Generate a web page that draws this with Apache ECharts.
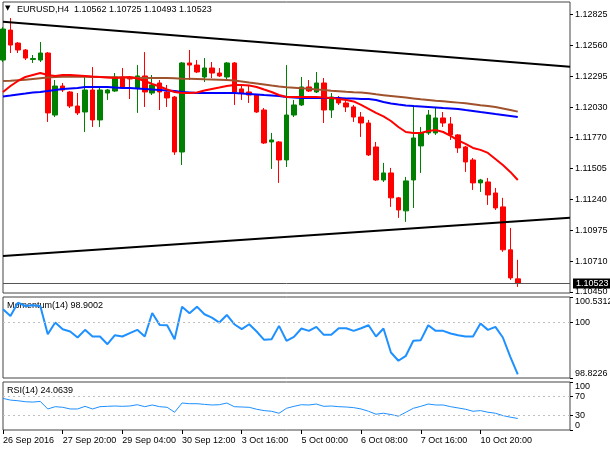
<!DOCTYPE html>
<html>
<head>
<meta charset="utf-8">
<script src="https://cdn.jsdelivr.net/npm/echarts@6/dist/echarts.min.js"></script>
<style>
  html, body { margin: 0; padding: 0; background: #fff; }
  #chart { width: 610px; height: 450px; }
</style>
</head>
<body>
<div id="chart"></div>
<script>
// EURUSD H4, candles as [open, close, low, high]
var candles = [
  [1.12432, 1.12697, 1.12415, 1.12714], [1.12688, 1.12560, 1.12492, 1.12791],
  [1.12577, 1.12518, 1.12492, 1.12586], [1.12518, 1.12449, 1.12432, 1.12526],
  [1.12437, 1.12445, 1.12407, 1.12475], [1.12432, 1.12492, 1.12415, 1.12586],
  [1.12492, 1.11980, 1.11903, 1.12500], [1.11962, 1.12210, 1.11945, 1.12261],
  [1.12210, 1.12176, 1.12159, 1.12236], [1.12159, 1.12039, 1.12022, 1.12167],
  [1.12039, 1.11980, 1.11962, 1.12150], [1.11988, 1.12176, 1.11817, 1.12304],
  [1.12176, 1.11920, 1.11860, 1.12372], [1.11920, 1.12176, 1.11860, 1.12193],
  [1.12150, 1.12176, 1.12091, 1.12185], [1.12167, 1.12287, 1.12159, 1.12321],
  [1.12287, 1.12202, 1.12185, 1.12364], [1.12278, 1.12270, 1.12099, 1.12287],
  [1.12193, 1.12296, 1.11980, 1.12389], [1.12296, 1.12159, 1.12031, 1.12500],
  [1.12150, 1.12219, 1.12133, 1.12304], [1.12236, 1.12159, 1.12005, 1.12261],
  [1.12159, 1.12108, 1.12031, 1.12219], [1.12116, 1.11646, 1.11621, 1.12125],
  [1.11646, 1.12407, 1.11535, 1.12415], [1.12407, 1.12389, 1.12261, 1.12518],
  [1.12389, 1.12330, 1.12321, 1.12432], [1.12287, 1.12364, 1.12244, 1.12449],
  [1.12364, 1.12321, 1.12278, 1.12415], [1.12321, 1.12296, 1.12287, 1.12364],
  [1.12287, 1.12407, 1.12261, 1.12415], [1.12407, 1.12159, 1.12048, 1.12415],
  [1.12185, 1.12150, 1.12091, 1.12219], [1.12159, 1.12133, 1.12065, 1.12219],
  [1.12133, 1.11988, 1.11980, 1.12142], [1.12005, 1.11723, 1.11715, 1.12022],
  [1.11732, 1.11749, 1.11501, 1.11809], [1.11732, 1.11578, 1.11382, 1.11740],
  [1.11578, 1.11962, 1.11518, 1.12389], [1.11962, 1.12048, 1.11945, 1.12091],
  [1.12048, 1.12202, 1.12039, 1.12287], [1.12202, 1.12167, 1.12159, 1.12261],
  [1.12159, 1.12236, 1.12150, 1.12330], [1.12236, 1.12005, 1.11894, 1.12278],
  [1.12005, 1.12116, 1.11937, 1.12150], [1.12108, 1.12065, 1.12048, 1.12125],
  [1.12065, 1.12031, 1.11988, 1.12091], [1.12031, 1.11945, 1.11903, 1.12048],
  [1.11945, 1.11894, 1.11775, 1.11988], [1.11894, 1.11621, 1.11612, 1.11920],
  [1.11689, 1.11407, 1.11399, 1.11732], [1.11407, 1.11467, 1.11390, 1.11553],
  [1.11467, 1.11254, 1.11177, 1.11510], [1.11254, 1.11151, 1.11083, 1.11262],
  [1.11143, 1.11399, 1.11049, 1.11433], [1.11407, 1.11766, 1.11168, 1.12048],
  [1.11698, 1.11809, 1.11467, 1.11860], [1.11809, 1.11962, 1.11792, 1.12005],
  [1.11809, 1.11937, 1.11792, 1.12031], [1.11937, 1.11894, 1.11860, 1.11988],
  [1.11886, 1.11792, 1.11749, 1.11945], [1.11792, 1.11681, 1.11638, 1.11800],
  [1.11689, 1.11561, 1.11476, 1.11698], [1.11578, 1.11382, 1.11322, 1.11595],
  [1.11382, 1.11407, 1.11305, 1.11416], [1.11390, 1.11279, 1.11194, 1.11424],
  [1.11296, 1.11168, 1.11151, 1.11339], [1.11177, 1.10810, 1.10793, 1.11254],
  [1.10810, 1.10570, 1.10553, 1.10997], [1.10562, 1.10523, 1.10493, 1.10725]
];

// moving averages (red fast, blue, brown slow)
var maRed = [
  1.12159, 1.12210, 1.12253, 1.12287, 1.12304, 1.12321, 1.12304, 1.12296, 1.12304, 1.12304,
  1.12300, 1.12296, 1.12291, 1.12287, 1.12283, 1.12278, 1.12283, 1.12287, 1.12274, 1.12253,
  1.12227, 1.12206, 1.12180, 1.12159, 1.12150, 1.12150, 1.12155, 1.12172, 1.12185, 1.12197,
  1.12210, 1.12219, 1.12219, 1.12214, 1.12202, 1.12180, 1.12159, 1.12133, 1.12116, 1.12116,
  1.12116, 1.12116, 1.12116, 1.12112, 1.12108, 1.12099, 1.12091, 1.12078, 1.12048, 1.12014,
  1.11980, 1.11950, 1.11911, 1.11860, 1.11817, 1.11809, 1.11809, 1.11826, 1.11834, 1.11817,
  1.11783, 1.11745, 1.11715, 1.11681, 1.11664, 1.11638, 1.11587, 1.11535, 1.11476, 1.11407
];
var maBlue = [
  1.12121, 1.12129, 1.12138, 1.12146, 1.12155, 1.12159, 1.12167, 1.12176, 1.12185, 1.12189,
  1.12193, 1.12202, 1.12202, 1.12202, 1.12202, 1.12197, 1.12193, 1.12193, 1.12189, 1.12185,
  1.12180, 1.12176, 1.12172, 1.12167, 1.12159, 1.12155, 1.12150, 1.12150, 1.12150, 1.12150,
  1.12150, 1.12150, 1.12146, 1.12142, 1.12138, 1.12133, 1.12129, 1.12125, 1.12116, 1.12112,
  1.12108, 1.12108, 1.12108, 1.12108, 1.12108, 1.12108, 1.12103, 1.12103, 1.12099, 1.12099,
  1.12091, 1.12074, 1.12061, 1.12052, 1.12044, 1.12039, 1.12035, 1.12031, 1.12027, 1.12022,
  1.12018, 1.12014, 1.12005, 1.11997, 1.11988, 1.11980, 1.11971, 1.11963, 1.11954, 1.11945
];
var maBrown = [
  1.12253, 1.12255, 1.12259, 1.12263, 1.12270, 1.12277, 1.12283, 1.12287, 1.12290, 1.12291,
  1.12290, 1.12289, 1.12287, 1.12287, 1.12285, 1.12284, 1.12283, 1.12282, 1.12280, 1.12278,
  1.12278, 1.12278, 1.12278, 1.12276, 1.12273, 1.12271, 1.12270, 1.12267, 1.12266, 1.12264,
  1.12262, 1.12257, 1.12249, 1.12240, 1.12232, 1.12223, 1.12214, 1.12206, 1.12199, 1.12195,
  1.12191, 1.12186, 1.12181, 1.12176, 1.12170, 1.12166, 1.12161, 1.12157, 1.12154, 1.12148,
  1.12139, 1.12132, 1.12125, 1.12118, 1.12111, 1.12104, 1.12097, 1.12091, 1.12085, 1.12080,
  1.12074, 1.12068, 1.12062, 1.12054, 1.12046, 1.12039, 1.12031, 1.12018, 1.12005, 1.11991
];

var momentum = [
  100.272, 100.132, 100.412, 100.342, 100.356, 100.342, 99.747, 99.992, 99.852, 99.803,
  99.677, 99.838, 99.698, 99.698, 99.536, 99.726, 99.698, 99.768, 99.838, 99.698,
  100.195, 99.943, 99.936, 99.642, 100.328, 100.188, 100.328, 100.167, 100.097, 99.992,
  100.153, 99.957, 99.852, 99.957, 99.803, 99.628, 99.642, 99.922, 99.607, 99.691,
  99.866, 99.817, 99.901, 99.733, 99.733, 99.873, 99.873, 99.817, 99.873, 99.936,
  99.698, 99.866, 99.361, 99.186, 99.291, 99.607, 99.621, 99.936, 99.817, 99.817,
  99.761, 99.726, 99.698, 99.698, 99.971, 99.838, 99.901, 99.677, 99.270, 98.9002
];
var rsi = [
  65.8, 62.3, 61.0, 58.9, 58.2, 59.6, 43.8, 48.6, 47.3, 43.8,
  43.8, 49.3, 43.8, 48.6, 49.3, 50.0, 49.3, 50.0, 52.7, 48.6,
  52.1, 48.6, 47.3, 37.0, 56.2, 54.8, 54.8, 53.4, 52.1, 52.7,
  56.2, 48.6, 47.9, 47.3, 43.2, 40.4, 39.0, 34.9, 45.2, 49.3,
  52.7, 52.1, 54.1, 49.3, 50.0, 48.6, 47.9, 46.6, 43.8, 39.0,
  32.9, 34.9, 32.2, 28.8, 37.0, 45.2, 49.3, 54.1, 52.1, 52.1,
  48.6, 45.9, 43.2, 39.0, 40.4, 37.0, 34.9, 30.1, 26.7, 24.0639
];

var tickLabels = ['26 Sep 2016', '27 Sep 20:00', '29 Sep 04:00', '30 Sep 12:00', '3 Oct 16:00',
  '5 Oct 00:00', '6 Oct 08:00', '7 Oct 16:00', '10 Oct 20:00'];
var priceTicks = [1.10450, 1.10710, 1.10975, 1.11240, 1.11505, 1.11770, 1.12030, 1.12295, 1.12560, 1.12825];
var momTicks = [98.8226, 100, 100.5312];
var rsiTicks = [0, 30, 70, 100];
var upperTrend = [1.12759, 1.12375];
var lowerTrend = [1.10758, 1.11085];
var lastPrice = 1.10523;
var ohlcTitle = '1.10562 1.10725 1.10493 1.10523';

var slots = 77; // bars plus empty space on the right
var categories = [];
for (var i = 0; i < slots; i++) { categories.push(String(i)); }

var FONT = 'Liberation Sans';
var labelStyle = { color: '#000', fontSize: 9, fontFamily: FONT };

function paneX(idx, showLabels) {
  return {
    type: 'category', gridIndex: idx, data: categories, boundaryGap: false,
    axisLine: { show: false },
    axisTick: {
      show: showLabels, length: 4, lineStyle: { color: '#000' },
      interval: function (i) { return i % 8 === 0 && !!tickLabels[i / 8]; }
    },
    axisLabel: showLabels ? {
      show: true, interval: 7, align: 'left', margin: 6, color: '#000', fontSize: 9, fontFamily: FONT,
      formatter: function (v, i) { return tickLabels[i / 8] || ''; }
    } : { show: false },
    splitLine: { show: false }
  };
}

function paneY(idx, min, max, ticks, fmt, edgeAlign) {
  var label = Object.assign({ customValues: ticks, margin: 5, formatter: fmt }, labelStyle);
  if (edgeAlign) {
    label.verticalAlignMinLabel = 'bottom';
    label.verticalAlignMaxLabel = 'top';
  }
  return {
    type: 'value', gridIndex: idx, position: 'right', min: min, max: max,
    axisLine: { show: false },
    axisTick: { show: true, customValues: ticks, length: 3, inside: false, lineStyle: { color: '#000' } },
    axisLabel: label,
    splitLine: { show: false }
  };
}

function level(v) {
  return { yAxis: v, lineStyle: { color: '#c0c0c0', type: [2, 3], width: 1 }, label: { show: false } };
}

var gridBase = { left: 3, width: 567, show: true, borderColor: '#444', borderWidth: 1, backgroundColor: '#fff', outerBoundsMode: 'none' };

var chart = echarts.init(document.getElementById('chart'));
chart.setOption({
  animation: false,
  backgroundColor: '#fff',
  grid: [
    Object.assign({ top: 2, height: 291 }, gridBase),
    Object.assign({ top: 297, height: 81 }, gridBase),
    Object.assign({ top: 382, height: 48 }, gridBase)
  ],
  xAxis: [paneX(0, false), paneX(1, false), paneX(2, true)],
  yAxis: [
    paneY(0, 1.10441, 1.12928, priceTicks, function (v) { return v.toFixed(5); }, false),
    paneY(1, 98.8226, 100.5312, momTicks, function (v) { return v === 100 ? '100' : v.toFixed(4); }, true),
    paneY(2, 0, 100, rsiTicks, function (v) { return String(v); }, true)
  ],
  graphic: [
    { type: 'text', left: 5, top: 5, style: { text: '\u25BC', fontSize: 7, fontFamily: 'DejaVu Sans', fill: '#000' } },
    { type: 'text', left: 17, top: 5, style: { text: 'EURUSD,H4  ' + ohlcTitle, fontSize: 9, fontFamily: FONT, fill: '#000' } },
    { type: 'text', left: 7, top: 301, style: { text: 'Momentum(14) ' + momentum[momentum.length - 1].toFixed(4), fontSize: 9, fontFamily: FONT, fill: '#000' } },
    { type: 'text', left: 7, top: 386, style: { text: 'RSI(14) ' + rsi[rsi.length - 1].toFixed(4), fontSize: 9, fontFamily: FONT, fill: '#000' } }
  ],
  series: [
    {
      type: 'candlestick', xAxisIndex: 0, yAxisIndex: 0, data: candles, barWidth: 5, z: 2,
      itemStyle: { color: '#008000', color0: '#ff0000', borderColor: '#008000', borderColor0: '#ff0000', borderWidth: 1 },
      markLine: {
        silent: true, symbol: 'none', animation: false, precision: 5,
        data: [
          [{ coord: [0, upperTrend[0]], lineStyle: { color: '#000', width: 2, type: 'solid' }, label: { show: false } },
           { coord: [slots - 1, upperTrend[1]] }],
          [{ coord: [0, lowerTrend[0]], lineStyle: { color: '#000', width: 2, type: 'solid' }, label: { show: false } },
           { coord: [slots - 1, lowerTrend[1]] }]
        ]
      }
    },
    { type: 'line', xAxisIndex: 0, yAxisIndex: 0, data: maBrown, showSymbol: false, z: 3, lineStyle: { color: '#a0522d', width: 2 } },
    {
      type: 'line', xAxisIndex: 0, yAxisIndex: 0, data: maBlue, showSymbol: false, z: 3, lineStyle: { color: '#0000ff', width: 2 },
      markLine: {
        silent: true, symbol: 'none', animation: false, precision: 5,
        data: [{
          yAxis: lastPrice, lineStyle: { color: '#555', width: 1, type: 'solid' },
          label: {
            show: true, position: 'end', distance: 3, formatter: lastPrice.toFixed(5),
            backgroundColor: '#000', color: '#fff', padding: [1, 3, 0, 3], fontSize: 9, fontFamily: FONT
          }
        }]
      }
    },
    { type: 'line', xAxisIndex: 0, yAxisIndex: 0, data: maRed, showSymbol: false, z: 3, lineStyle: { color: '#ff0000', width: 2 } },
    {
      type: 'line', xAxisIndex: 1, yAxisIndex: 1, data: momentum, showSymbol: false, z: 3,
      lineStyle: { color: '#1e90ff', width: 2 },
      markLine: { silent: true, symbol: 'none', animation: false, precision: 4, data: [level(100)] }
    },
    {
      type: 'line', xAxisIndex: 2, yAxisIndex: 2, data: rsi, showSymbol: false, z: 3,
      lineStyle: { color: '#1e90ff', width: 1 },
      markLine: { silent: true, symbol: 'none', animation: false, data: [level(30), level(70)] }
    }
  ]
});
</script>
</body>
</html>
